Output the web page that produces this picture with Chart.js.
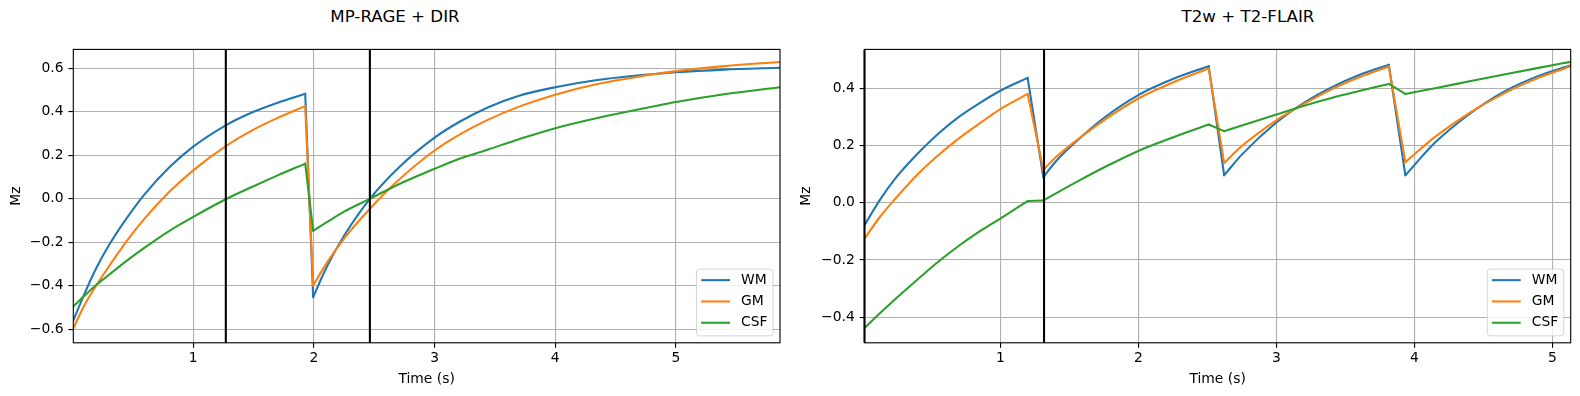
<!DOCTYPE html>
<html>
<head>
<meta charset="utf-8">
<script src="https://cdn.jsdelivr.net/npm/chart.js@4/dist/chart.umd.min.js"></script>
<style>
    body { margin: 0; background: #fff; }
    #wrap { position: relative; width: 1580px; height: 396px; font-family: "DejaVu Sans", sans-serif; }
    .panel { position: absolute; top: 0; width: 790px; height: 396px; }
    .title { position: absolute; top: 7px; font-size: 16.67px; line-height: 20px; white-space: nowrap; transform: translateX(-50%); color: #000; }
</style>
</head>
<body>
<div id="wrap">
    <div class="title" style="left: 395px">MP-RAGE + DIR</div>
    <div class="title" style="left: 1248px">T2w + T2-FLAIR</div>
    <div class="panel" style="left: 0"><canvas id="chart-left" width="790" height="396"></canvas></div>
    <div class="panel" style="left: 790px"><canvas id="chart-right" width="790" height="396"></canvas></div>
</div>
<script>
// left panel: MP-RAGE + DIR
const leftTime = [0.006, 0.1, 0.2, 0.3, 0.45, 0.6, 0.8, 1.0, 1.27, 1.5, 1.7, 1.928,
                  1.994, 2.1, 2.25, 2.464, 2.7, 3.0, 3.2, 3.45, 3.7, 4.0, 4.35, 4.8, 5.0, 5.4, 5.863];
const leftWM = [-0.56, -0.435, -0.315, -0.215, -0.088, 0.023, 0.144, 0.240, 0.338, 0.400, 0.442, 0.483,
                -0.452, -0.32, -0.17, 0.0, 0.142, 0.281, 0.352, 0.422, 0.474, 0.513, 0.546, 0.573, 0.582, 0.594, 0.603];
const leftGM = [-0.595, -0.487, -0.395, -0.312, -0.193, -0.089, 0.031, 0.131, 0.242, 0.318, 0.372, 0.426,
                -0.398, -0.30, -0.183, -0.046, 0.085, 0.222, 0.293, 0.365, 0.424, 0.479, 0.528, 0.572, 0.587, 0.61, 0.629];
const leftCSF = [-0.495, -0.445, -0.394, -0.350, -0.284, -0.223, -0.148, -0.083, -0.002, 0.058, 0.108, 0.162,
                 -0.147, -0.110, -0.059, 0.0, 0.066, 0.138, 0.183, 0.228, 0.274, 0.325, 0.372, 0.423, 0.445, 0.481, 0.513];
const leftBreaks = [11];
const leftMarkers = [1.27, 2.464];
const leftXTicks = [1, 2, 3, 4, 5];
const leftYTicks = [-0.6, -0.4, -0.2, 0.0, 0.2, 0.4, 0.6];
const leftYRange = [-0.662, 0.687];

// right panel: T2w + T2-FLAIR
const rightTime = [0.016, 0.13, 0.25, 0.4, 0.55, 0.7, 0.85, 1.0, 1.198,
                   1.312, 1.4, 1.55, 1.75, 2.0, 2.25, 2.51,
                   2.622, 2.75, 3.0, 3.2, 3.4, 3.6, 3.815,
                   3.935, 4.15, 4.4, 4.65, 4.9, 5.133];
const rightWM = [-0.078, 0.012, 0.091, 0.171, 0.241, 0.300, 0.348, 0.391, 0.436,
                 0.089, 0.143, 0.214, 0.296, 0.376, 0.432, 0.477,
                 0.096, 0.168, 0.280, 0.349, 0.403, 0.446, 0.482,
                 0.096, 0.210, 0.310, 0.388, 0.443, 0.48];
const rightGM = [-0.125, -0.048, 0.02, 0.099, 0.166, 0.225, 0.277, 0.327, 0.38,
                 0.115, 0.158, 0.217, 0.288, 0.364, 0.420, 0.469,
                 0.139, 0.198, 0.288, 0.345, 0.396, 0.438, 0.476,
                 0.142, 0.230, 0.314, 0.382, 0.436, 0.477];
const rightCSF = [-0.437, -0.385, -0.332, -0.268, -0.206, -0.150, -0.100, -0.055, 0.006,
                  0.008, 0.032, 0.072, 0.123, 0.181, 0.228, 0.273,
                  0.25, 0.27, 0.308, 0.339, 0.366, 0.39, 0.415,
                  0.38, 0.40, 0.424, 0.448, 0.471, 0.492];
const rightBreaks = [8, 15, 22];
const rightMarkers = [0.016, 1.317];
const rightXTicks = [1, 2, 3, 4, 5];
const rightYTicks = [-0.4, -0.2, 0.0, 0.2, 0.4];
const rightYRange = [-0.489, 0.5355];

const seriesLabels = ["WM", "GM", "CSF"];

var MzPlots =
{
    colors: ["#1f77b4", "#ff7f0e", "#2ca02c"],
    fontSize: 13.89,
    lineWidth: 2.08,

    init: function()
    {
        Chart.defaults.font.family = "'DejaVu Sans', sans-serif";
        Chart.defaults.font.size = MzPlots.fontSize;
        Chart.defaults.color = "#000";

        MzPlots.draw("chart-left", {
            time: leftTime, series: [leftWM, leftGM, leftCSF], breaks: leftBreaks,
            markers: leftMarkers, xTicks: leftXTicks, yTicks: leftYTicks, yRange: leftYRange,
            axisWidth: 73.3, padRight: 10
        });
        MzPlots.draw("chart-right", {
            time: rightTime, series: [rightWM, rightGM, rightCSF], breaks: rightBreaks,
            markers: rightMarkers, xTicks: rightXTicks, yTicks: rightYTicks, yRange: rightYRange,
            axisWidth: 74.5, padRight: 9.3
        });
    },

    // smooth parts between pulses, plus straight lines for the jumps
    seriesDatasets: function(time, values, breaks, label, color, order)
    {
        var smooth = [], jumps = [];
        for (var i = 0; i < time.length; i++) {
            smooth.push({x: time[i], y: values[i]});
            if (breaks.indexOf(i) >= 0) {
                smooth.push({x: (time[i] + time[i + 1]) / 2, y: null});
                jumps.push({x: time[i], y: values[i]});
                jumps.push({x: time[i + 1], y: values[i + 1]});
                jumps.push({x: time[i + 1], y: null});
            }
        }
        var base = {
            borderColor: color, borderWidth: MzPlots.lineWidth, pointRadius: 0,
            fill: false, order: order, borderCapStyle: "round", borderJoinStyle: "round"
        };
        return [
            Object.assign({label: label, data: smooth, cubicInterpolationMode: "monotone", showInLegend: true}, base),
            Object.assign({label: label + " step", data: jumps, tension: 0}, base)
        ];
    },

    draw: function(canvasId, cfg)
    {
        var datasets = [];
        var markerData = [];
        cfg.markers.forEach(function(x) {
            markerData.push({x: x, y: cfg.yRange[0]}, {x: x, y: cfg.yRange[1]}, {x: x, y: null});
        });
        datasets.push({
            label: "markers", data: markerData, borderColor: "#000", borderWidth: MzPlots.lineWidth,
            pointRadius: 0, tension: 0, order: 0, borderCapStyle: "butt", clip: false
        });
        seriesLabels.forEach(function(label, i) {
            datasets = datasets.concat(MzPlots.seriesDatasets(cfg.time, cfg.series[i], cfg.breaks, label, MzPlots.colors[i], 3 - i));
        });

        var grid = {
            color: "#b0b0b0", lineWidth: 1.11, tickColor: "#000", tickWidth: 1.11, tickLength: 4.86
        };

        new Chart(document.getElementById(canvasId), {
            type: "line",
            data: {datasets: datasets},
            options: {
                responsive: false,
                animation: false,
                events: [],
                layout: {padding: {left: 0, right: cfg.padRight, top: 49.4, bottom: 0}},
                plugins: {
                    legend: {display: false},
                    title: {display: false},
                    tooltip: {enabled: false}
                },
                scales: {
                    x: {
                        type: "linear",
                        min: cfg.time[0],
                        max: cfg.time[cfg.time.length - 1],
                        afterBuildTicks: function(scale) {
                            scale.ticks = cfg.xTicks.map(function(v) { return {value: v}; });
                        },
                        afterFit: function(scale) { scale.height = 396 - 342.8; },
                        grid: grid,
                        border: {display: false},
                        ticks: {padding: 2, maxRotation: 0, autoSkip: false, callback: function(v) { return String(v); }},
                        title: {display: true, text: "Time (s)", padding: {top: 0, bottom: 8.7}}
                    },
                    y: {
                        type: "linear",
                        min: cfg.yRange[0],
                        max: cfg.yRange[1],
                        afterBuildTicks: function(scale) {
                            scale.ticks = cfg.yTicks.map(function(v) { return {value: v}; });
                        },
                        afterFit: function(scale) { scale.width = cfg.axisWidth; },
                        grid: grid,
                        border: {display: false},
                        ticks: {
                            padding: 4.9, autoSkip: false,
                            callback: function(v) { return (v < -1e-9 ? "\u2212" : "") + Math.abs(v).toFixed(1); }
                        },
                        title: {display: true, text: "Mz", padding: {top: 8.5, bottom: 0}}
                    }
                }
            },
            plugins: [MzPlots.framePlugin, MzPlots.legendPlugin]
        });
    },

    framePlugin: {
        id: "frame",
        afterDatasetsDraw: function(chart)
        {
            var a = chart.chartArea, ctx = chart.ctx;
            ctx.save();
            ctx.strokeStyle = "#000";
            ctx.lineWidth = 1.11;
            ctx.strokeRect(a.left, a.top, a.right - a.left, a.bottom - a.top);
            ctx.restore();
        }
    },

    legendPlugin: {
        id: "boxLegend",
        afterDraw: function(chart)
        {
            var fs = MzPlots.fontSize;
            var a = chart.chartArea, ctx = chart.ctx;
            var items = chart.data.datasets.filter(function(d) { return d.showInLegend; });
            ctx.save();
            ctx.font = fs + "px 'DejaVu Sans', sans-serif";
            var maxW = 0;
            items.forEach(function(d) { maxW = Math.max(maxW, ctx.measureText(d.label).width); });
            var textX = 0.4 * fs + 2 * fs + 0.8 * fs;
            var w = textX + maxW + 0.4 * fs;
            var h = 66.7;
            var right = a.right - 0.5 * fs, bottom = a.bottom - 0.5 * fs;
            var left = right - w, top = bottom - h;

            ctx.beginPath();
            ctx.roundRect(left, top, w, h, 2.8);
            ctx.fillStyle = "rgba(255,255,255,0.8)";
            ctx.fill();
            ctx.strokeStyle = "rgba(204,204,204,0.8)";
            ctx.lineWidth = 1;
            ctx.stroke();

            items.forEach(function(d, i) {
                var cy = top + 11 + i * 21.3;
                ctx.beginPath();
                ctx.moveTo(left + 4.6, cy);
                ctx.lineTo(left + 33.4, cy);
                ctx.strokeStyle = d.borderColor;
                ctx.lineWidth = MzPlots.lineWidth;
                ctx.stroke();
                ctx.fillStyle = "#000";
                ctx.textBaseline = "middle";
                ctx.fillText(d.label, left + textX, cy);
            });
            ctx.restore();
        }
    }
};
MzPlots.init();
</script>
</body>
</html>
